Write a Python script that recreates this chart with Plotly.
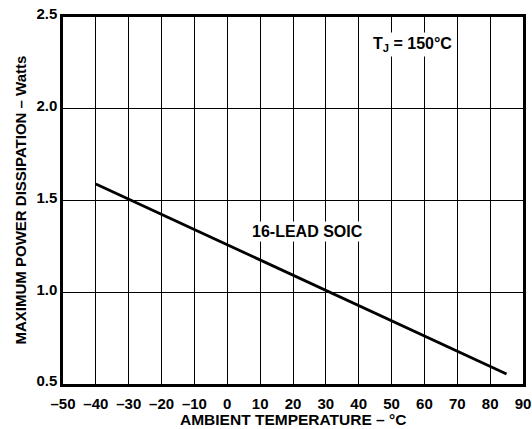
import plotly.graph_objects as go

temps = [-40, 85]
power = [1.59, 0.555]
x_ticks = [-50, -40, -30, -20, -10, 0, 10, 20, 30, 40, 50, 60, 70, 80, 90]
y_ticks = [0.5, 1.0, 1.5, 2.0, 2.5]
y_tick_text = ["0.5", "1.0", "1.5", "2.0", "2.5"]
x_title = "AMBIENT TEMPERATURE – °C"
y_title = "MAXIMUM POWER DISSIPATION – Watts"

font_family = "Liberation Sans, Arial, sans-serif"

fig = go.Figure()
fig.add_trace(go.Scatter(x=temps, y=power, mode="lines",
                         line=dict(color="black", width=2.8),
                         showlegend=False, hoverinfo="skip"))

fig.add_annotation(x=24.5, y=1.33, text="<b>16-LEAD SOIC</b>", showarrow=False,
                   bgcolor="white", font=dict(family=font_family, size=16, color="black"),
                   borderpad=1)
fig.add_annotation(x=56.5, y=2.35, text="<b>T<sub>J</sub> = 150°C</b>", showarrow=False,
                   bgcolor="white", font=dict(family=font_family, size=16, color="black"),
                   borderpad=2)
# axis titles placed as annotations for exact positioning
fig.add_annotation(xref="x", yref="paper", x=20, y=0, yshift=-35, yanchor="middle",
                   text="<b>" + x_title + "</b>", showarrow=False,
                   font=dict(family=font_family, size=15.5, color="black"))
fig.add_annotation(xref="paper", yref="paper", x=0, y=0.5, xshift=-43, xanchor="center",
                   yanchor="middle", textangle=-90,
                   text="<b>" + y_title + "</b>", showarrow=False,
                   font=dict(family=font_family, size=15, color="black"))

fig.update_layout(
    width=532, height=429,
    margin=dict(l=63, r=9, t=17, b=45),
    paper_bgcolor="white", plot_bgcolor="white",
    font=dict(family=font_family, color="black"),
    xaxis=dict(range=[-50, 90], tickvals=x_ticks, automargin=False,
               ticktext=[("–" + str(-v)) if v < 0 else str(v) for v in x_ticks],
               showgrid=True, gridcolor="black", gridwidth=1.2,
               showline=True, linecolor="black", linewidth=2.5, mirror=True,
               zeroline=False, ticks="", ticklen=0, ticklabelstandoff=4,
               tickfont=dict(family=font_family, size=15, color="black", weight="bold")),
    yaxis=dict(range=[0.5, 2.5], tickvals=y_ticks, ticktext=y_tick_text, automargin=False,
               showgrid=True, gridcolor="black", gridwidth=1.2,
               showline=True, linecolor="black", linewidth=2.5, mirror=True,
               zeroline=False, ticks="", ticklen=0, ticklabelshift=-3,
               tickfont=dict(family=font_family, size=15, color="black", weight="bold")),
)

fig.write_html("out.html", config={"displayModeBar": False},
               post_script="document.body.style.margin='0';document.body.style.overflow='hidden';")
